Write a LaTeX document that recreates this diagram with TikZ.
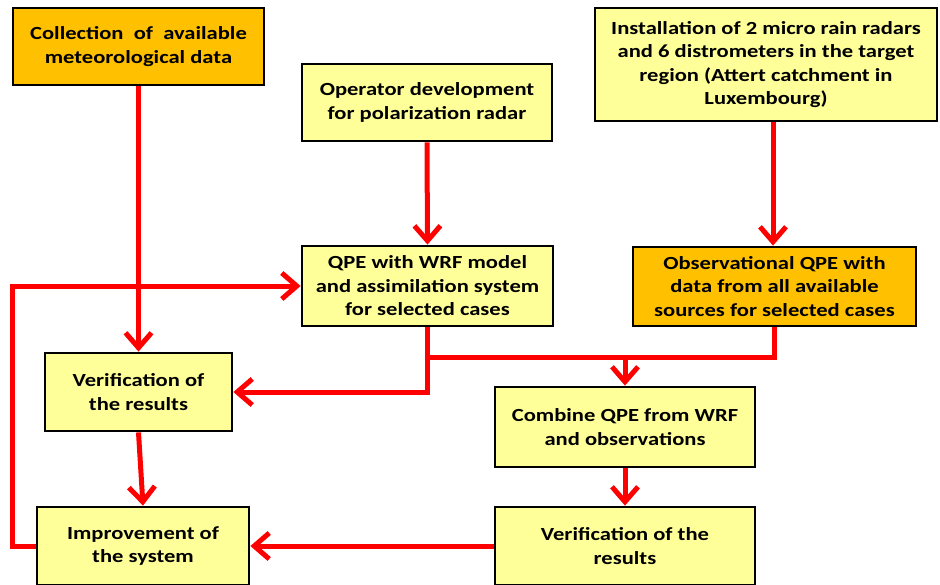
\documentclass[tikz,border=0pt]{standalone}
\usepackage{fontspec}
\setmainfont{Carlito}[FakeStretch=1.22]
\usetikzlibrary{arrows.meta}
\definecolor{boxyellow}{HTML}{FFFF99}
\definecolor{boxorange}{HTML}{FFC000}
\definecolor{linered}{HTML}{FF0000}
\begin{document}
\begin{tikzpicture}[x=1pt,y=-1pt,
  box/.style={draw=black,line width=2.8pt,fill=boxyellow,align=center,inner sep=2pt,
    font=\fontsize{18.5}{23.5}\selectfont\bfseries},
  obox/.style={box,fill=boxorange},
  conn/.style={draw=linered,line width=5pt},
  arr/.style={conn,-{Straight Barb[length=15pt,width=26pt]}}]
\useasboundingbox (0,0) rectangle (940,584);
\fill[white] (0,0) rectangle (940,584);
\node[obox,minimum width=251pt,minimum height=77pt] (coll) at (138.5,46.5)
  {Collection\ \ of\ \ available\\meteorological data};
\node[box,minimum width=250pt,minimum height=77pt] (oper) at (427,102.5)
  {Operator development\\for polarization radar};
\node[box,minimum width=342pt,minimum height=113pt] (inst) at (766,64.5)
  {Installation of 2 micro rain radars\\and 6 distrometers in the target\\region (Attert catchment in\\Luxembourg)};
\node[box,minimum width=251pt,minimum height=80pt] (qpe) at (427.5,286)
  {QPE with WRF model\\and assimilation system\\for selected cases};
\node[obox,minimum width=283pt,minimum height=79pt] (obs) at (774.5,286.5)
  {Observational QPE with\\data from all available\\sources for selected cases};
\node[box,minimum width=187pt,minimum height=78pt] (ver1) at (138.5,392)
  {Verification of\\the results};
\node[box,minimum width=212pt,minimum height=78pt] (impr) at (143,546)
  {Improvement of\\the system};
\node[box,minimum width=260pt,minimum height=80pt] (comb) at (625,427)
  {Combine QPE from WRF\\and observations};
\node[box,minimum width=260pt,minimum height=78pt] (ver2) at (625,546)
  {Verification of the\\results};
\coordinate (mid) at (625,357);
\coordinate (loopb) at (12,546);
\coordinate (loopt) at (12,286);
\draw[arr] (coll.south) -- (ver1.north);
\draw[arr] (oper.south) -- (qpe.north);
\draw[arr] (inst.south -| 773,0) -- (obs.north -| 773,0);
\draw[arr] (qpe.south) |- (ver1.east);
\draw[conn,line join=miter] (qpe.south |- mid) -- (mid -| obs.south) -- (obs.south);
\draw[arr] (mid) -- (comb.north);
\draw[arr] (ver1.south) -- (impr.north);
\draw[arr] (comb.south) -- (ver2.north);
\draw[arr] (ver2.west) -- (impr.east);
\draw[arr,line join=miter] (impr.west) -- (loopb) -- (loopt) -- (qpe.west);
\end{tikzpicture}
\end{document}
